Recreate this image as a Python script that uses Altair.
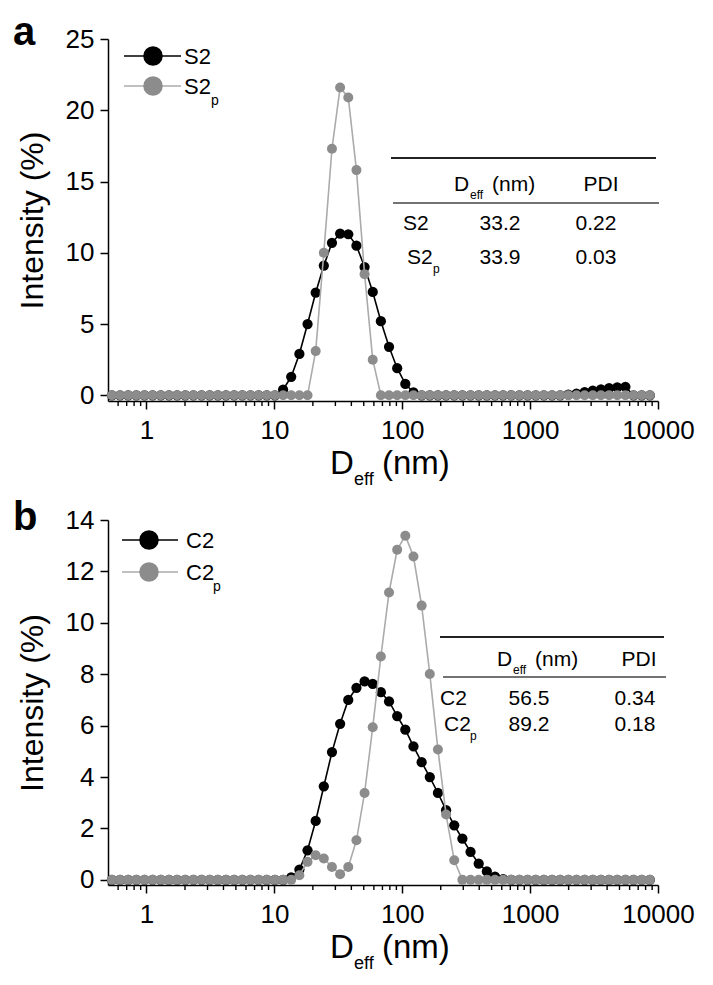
import altair as alt
import pandas as pd

# ---------------- data ----------------
D_NM = [0.5365, 0.6213, 0.7195, 0.8332, 0.9649, 1.117, 1.294, 1.499, 1.736, 2.010,
        2.328, 2.696, 3.122, 3.615, 4.187, 4.849, 5.615, 6.503, 7.531, 8.721,
        10.10, 11.70, 13.54, 15.69, 18.17, 21.04, 24.36, 28.21, 32.67, 37.84,
        43.82, 50.75, 58.77, 68.06, 78.82, 91.28, 105.7, 122.4, 141.8, 164.2,
        190.1, 220.2, 255.0, 295.3, 342.0, 396.1, 458.7, 531.2, 615.1, 712.4,
        825.0, 955.4, 1106, 1281, 1484, 1718, 1990, 2305, 2669, 3091,
        3580, 4145, 4801, 5560, 6439, 7456, 8635]

S2 = [0, 0, 0, 0, 0, 0, 0, 0, 0, 0,
      0, 0, 0, 0, 0, 0, 0, 0, 0, 0,
      0, 0.4, 1.3, 2.9, 5.0, 7.2, 9.1, 10.7, 11.35, 11.3,
      10.5, 9.0, 7.25, 5.2, 3.4, 1.9, 0.8, 0.2, 0, 0,
      0, 0, 0, 0, 0, 0, 0, 0, 0, 0,
      0, 0, 0, 0, 0, 0, 0.05, 0.12, 0.22, 0.32,
      0.42, 0.5, 0.55, 0.6, 0, 0, 0]

S2P = [0, 0, 0, 0, 0, 0, 0, 0, 0, 0,
       0, 0, 0, 0, 0, 0, 0, 0, 0, 0,
       0, 0, 0, 0, 0, 3.1, 10.0, 17.3, 21.6, 20.9,
       15.8, 8.5, 2.5, 0, 0, 0, 0, 0, 0, 0,
       0, 0, 0, 0, 0, 0, 0, 0, 0, 0,
       0, 0, 0, 0, 0, 0, 0, 0, 0, 0,
       0, 0, 0, 0, 0, 0, 0]

C2 = [0, 0, 0, 0, 0, 0, 0, 0, 0, 0,
      0, 0, 0, 0, 0, 0, 0, 0, 0, 0,
      0, 0, 0.1, 0.4, 1.15, 2.29, 3.64, 4.97, 6.07, 7.0,
      7.47, 7.72, 7.62, 7.30, 6.94, 6.37, 5.84, 5.19, 4.58, 4.0,
      3.38, 2.71, 2.12, 1.6, 1.09, 0.63, 0.33, 0.13, 0.03, 0,
      0, 0, 0, 0, 0, 0, 0, 0, 0, 0,
      0, 0, 0, 0, 0, 0, 0]

C2P = [0, 0, 0, 0, 0, 0, 0, 0, 0, 0,
       0, 0, 0, 0, 0, 0, 0, 0, 0, 0,
       0, 0, 0, 0.18, 0.7, 0.96, 0.83, 0.5, 0.22, 0.5,
       1.54, 3.38, 5.94, 8.69, 11.18, 12.84, 13.39, 12.58, 10.67, 8.01,
       5.07, 2.54, 0.76, 0, 0, 0, 0, 0, 0, 0,
       0, 0, 0, 0, 0, 0, 0, 0, 0, 0,
       0, 0, 0, 0, 0, 0, 0]

X_TICKS = [1, 10, 100, 1000, 10000]
X_MINOR = [0.6, 0.7, 0.8, 0.9,
           2, 3, 4, 5, 6, 7, 8, 9,
           20, 30, 40, 50, 60, 70, 80, 90,
           200, 300, 400, 500, 600, 700, 800, 900,
           2000, 3000, 4000, 5000, 6000, 7000, 8000, 9000]
YTICKS_A = [0, 5, 10, 15, 20, 25]
YTICKS_B = [0, 2, 4, 6, 8, 10, 12, 14]

SERIES_A = ["S2", "S2"]
SUBS_A = ["", "p"]
DEFF_A = ["33.2", "33.9"]
PDI_A = ["0.22", "0.03"]

SERIES_B = ["C2", "C2"]
SUBS_B = ["", "p"]
DEFF_B = ["56.5", "89.2"]
PDI_B = ["0.34", "0.18"]

# ---------------- styling ----------------
FONT = "Liberation Sans, Arial, Helvetica, sans-serif"
W = 550
BLACK = "#000000"
GRAY_PT = "#8c8c8c"
GRAY_LN = "#ababab"
DUMMY = pd.DataFrame({"k": [0]})


def txt(s, x, y, size, align="left", weight="normal"):
    return alt.Chart(DUMMY).mark_text(
        text=s, fontSize=size, font=FONT, align=align, baseline="alphabetic",
        color="#000", fontWeight=weight
    ).encode(x=alt.value(x), y=alt.value(y))


def hline(x1, x2, y, color, w):
    return alt.Chart(DUMMY).mark_rule(color=color, strokeWidth=w).encode(
        x=alt.value(x1), x2=alt.value(x2), y=alt.value(y))


def dot(x, y, color, size):
    return alt.Chart(DUMMY).mark_circle(color=color, size=size, opacity=1).encode(
        x=alt.value(x), y=alt.value(y))


def panel(letter, black_vals, gray_vals, ydom, yticks, names, subs, deffs, pdis, lg, tb,
          letter_y, H):
    xenc = alt.X("d:Q", scale=alt.Scale(type="log", domain=[0.5, 10000], nice=False),
                 axis=alt.Axis(values=X_TICKS, format="d", title=None, labelFontSize=26,
                               tickSize=8, labelPadding=8, labelFlush=False))
    yenc = alt.Y("v:Q", scale=alt.Scale(domain=ydom, nice=False, zero=False),
                 axis=alt.Axis(values=yticks, title="Intensity (%)", titleFontSize=32,
                               titleFontWeight="normal", titleX=-66, titleY=H / 2,
                               titleBaseline="alphabetic", titleAlign="center",
                               labelFontSize=26, tickSize=8, labelPadding=6))
    df_b = pd.DataFrame({"d": D_NM, "v": black_vals})
    df_g = pd.DataFrame({"d": D_NM, "v": gray_vals})
    df_m = pd.DataFrame({"d": X_MINOR})

    layers = [
        alt.Chart(df_b).mark_line(color=BLACK, strokeWidth=1.6).encode(x=xenc, y=yenc),
        alt.Chart(df_b).mark_circle(color=BLACK, size=105, opacity=1).encode(x=xenc, y=yenc),
        alt.Chart(df_g).mark_line(color=GRAY_LN, strokeWidth=1.6).encode(x=xenc, y=yenc),
        alt.Chart(df_g).mark_circle(color=GRAY_PT, size=100, opacity=1).encode(x=xenc, y=yenc),
        alt.Chart(df_m).mark_rule(color=BLACK, strokeWidth=1.4).encode(
            x=xenc, y=alt.value(H), y2=alt.value(H + 5)),
    ]

    # legend (manual, to allow subscripts)
    lx1, lx2, lcx, ltx, lrows = lg
    for i, (nm, sb) in enumerate(zip(names, subs)):
        ly = lrows[i]
        lc = BLACK if i == 0 else GRAY_LN
        pc = BLACK if i == 0 else GRAY_PT
        layers.append(hline(lx1, lx2, ly, lc, 1.6))
        layers.append(dot(lcx, ly, pc, 380))
        layers.append(txt(nm, ltx, ly + 8, 22))
        if sb:
            layers.append(txt(sb, ltx + 27, ly + 19, 14))

    # table
    (r1x1, r1x2, r1y), (r2x1, r2x2, r2y), hy, dX, pX, nameX, rowsY, deffX, pdiX = tb
    layers.append(hline(r1x1, r1x2, r1y, "#222", 2))
    layers.append(hline(r2x1, r2x2, r2y, "#444", 1.5))
    layers.append(txt("D", dX, hy, 21))
    layers.append(txt("eff", dX + 16, hy + 8, 12))
    layers.append(txt("(nm)", dX + 38, hy, 21))
    layers.append(txt("PDI", pX, hy, 21, align="center"))
    for i in range(len(names)):
        ry = rowsY[i]
        layers.append(txt(names[i], nameX + (4 if subs[i] else 0), ry, 21))
        if subs[i]:
            layers.append(txt(subs[i], nameX + 4 + 26, ry + 9, 12))
        layers.append(txt(deffs[i], deffX, ry, 21, align="center"))
        layers.append(txt(pdis[i], pdiX, ry, 21, align="center"))

    # x-axis title with subscript
    layers.append(txt("D", 222, H + 73, 33))
    layers.append(txt("eff", 246, H + 84, 18))
    layers.append(txt("(nm)", 274, H + 73, 33))

    # panel letter
    layers.append(txt(letter, -95, letter_y, 40, weight="bold"))

    return alt.layer(*layers).properties(width=W, height=H)


panel_a = panel(
    "a", S2, S2P, [-0.4, 25], YTICKS_A, SERIES_A, SUBS_A, DEFF_A, PDI_A,
    (16, 73, 45, 76, [17, 47]),
    ((283, 548, 119), (285, 551, 164), 152, 346, 493, 295, [191, 225], 392, 488),
    6, 362,
)

panel_b = panel(
    "b", C2, C2P, [-0.2, 14], YTICKS_B, SERIES_B, SUBS_B, DEFF_B, PDI_B,
    (14, 70, 41, 78, [20, 52]),
    ((332, 556, 117), (335, 558, 157), 146, 389, 531, 332, [185, 211], 421, 527),
    10, 365,
)

chart = alt.vconcat(panel_a, panel_b, spacing=9).properties(
    padding={"left": 5, "top": 5, "right": 5, "bottom": 5}
).configure_view(stroke=None).configure_axis(
    grid=False, labelFont=FONT, titleFont=FONT, domainColor="#000", tickColor="#000",
    labelColor="#000", titleColor="#000", domainWidth=1.5, tickWidth=1.5
)

chart.save("out.html", embed_options={"renderer": "svg", "actions": False})
